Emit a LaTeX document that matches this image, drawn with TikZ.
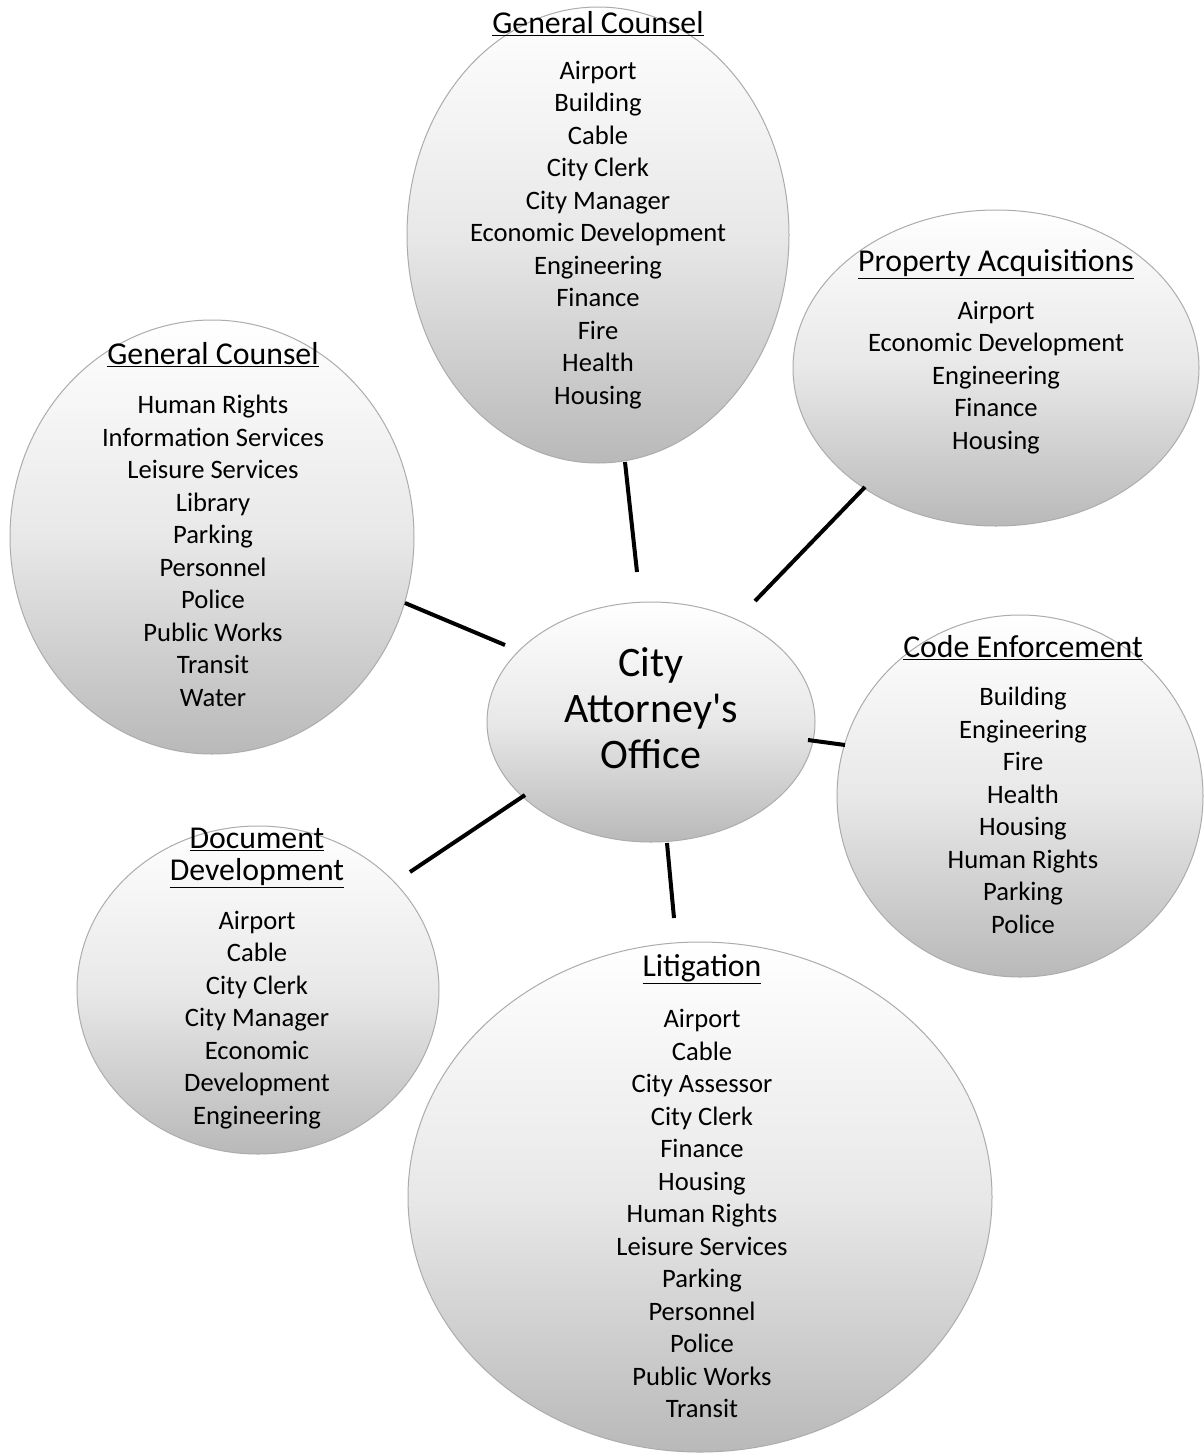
\documentclass[tikz,border=0pt]{standalone}
\usepackage{fontspec}
\setmainfont{Carlito}[Ligatures=TeXOff]
\usetikzlibrary{shapes.geometric}
\begin{document}
\begin{tikzpicture}[x=1pt,y=-1pt,
  bubble/.style={ellipse, draw=gray!65, line width=1pt, top color=white, bottom color=gray!55, middle color=gray!18, inner sep=0pt},
  title/.style={font=\fontsize{31.8}{34}\selectfont, align=center, inner sep=0pt},
  items/.style={font=\fontsize{26.6}{32.5}\selectfont, align=center, inner sep=0pt},
  link/.style={line width=4pt, black}]
\useasboundingbox[fill=white] (0,0) rectangle (1204,1454);
% bubbles
\node[bubble, minimum width=382pt, minimum height=456pt] (gc1) at (598,235) {};
\node[bubble, minimum width=404pt, minimum height=434pt] (gc2) at (212,537) {};
\node[bubble, minimum width=406pt, minimum height=316pt] (pa) at (996,368) {};
\node[bubble, minimum width=366pt, minimum height=362pt] (ce) at (1020,796) {};
\node[bubble, minimum width=362pt, minimum height=328pt] (dd) at (258,990) {};
\node[bubble, minimum width=584pt, minimum height=510pt] (lit) at (700,1197) {};
\node[bubble, minimum width=328pt, minimum height=240pt] (cao) at (651,722) {};
% connector ends
\coordinate (a1) at (625,462); \coordinate (b1) at (637,572);
\coordinate (a2) at (405,603); \coordinate (b2) at (505,645);
\coordinate (a3) at (865,487); \coordinate (b3) at (755,601);
\coordinate (a4) at (845,745); \coordinate (b4) at (808,740);
\coordinate (a5) at (410,872); \coordinate (b5) at (525,795);
\coordinate (a6) at (674,918); \coordinate (b6) at (667,843);
\draw[link] (a1) -- (b1);
\draw[link] (a2) -- (b2);
\draw[link] (a3) -- (b3);
\draw[link] (a4) -- (b4);
\draw[link] (a5) -- (b5);
\draw[link] (a6) -- (b6);
% center text
\node[font=\fontsize{42}{46}\selectfont, align=center, inner sep=0pt] (caot) at (651,708) {City\\Attorney's\\Office};
% titles
\node[title] (gc1t) at (598,24) {\underline{General Counsel}};
\node[title] (gc2t) at (213,355) {\underline{General Counsel}};
\node[title] (pat) at (996,264) {\underline{Property Acquisitions}};
\node[title] (cet) at (1023,648) {\underline{Code Enforcement}};
\node[title] (ddt1) at (257,839) {\underline{Document}};
\node[title] (ddt2) at (257,873) {\underline{Development}};
\node[title] (litt) at (702,969) {\underline{Litigation}};
% lists
\node[items] (gc1l) at (598,235) {Airport\\Building\\Cable\\City Clerk\\City Manager\\Economic Development\\Engineering\\Finance\\Fire\\Health\\Housing};
\node[items] (gc2l) at (213,551) {Human Rights\\Information Services\\Leisure Services\\Library\\Parking\\Personnel\\Police\\Public Works\\Transit\\Water};
\node[items] (pal) at (996,377.5) {Airport\\Economic Development\\Engineering\\Finance\\Housing};
\node[items] (cel) at (1023,810.5) {Building\\Engineering\\Fire\\Health\\Housing\\Human Rights\\Parking\\Police};
\node[items] (ddl) at (257,1020) {Airport\\Cable\\City Clerk\\City Manager\\Economic\\Development\\Engineering};
\node[items] (litl) at (702,1213.5) {Airport\\Cable\\City Assessor\\City Clerk\\Finance\\Housing\\Human Rights\\Leisure Services\\Parking\\Personnel\\Police\\Public Works\\Transit};
\end{tikzpicture}
\end{document}
